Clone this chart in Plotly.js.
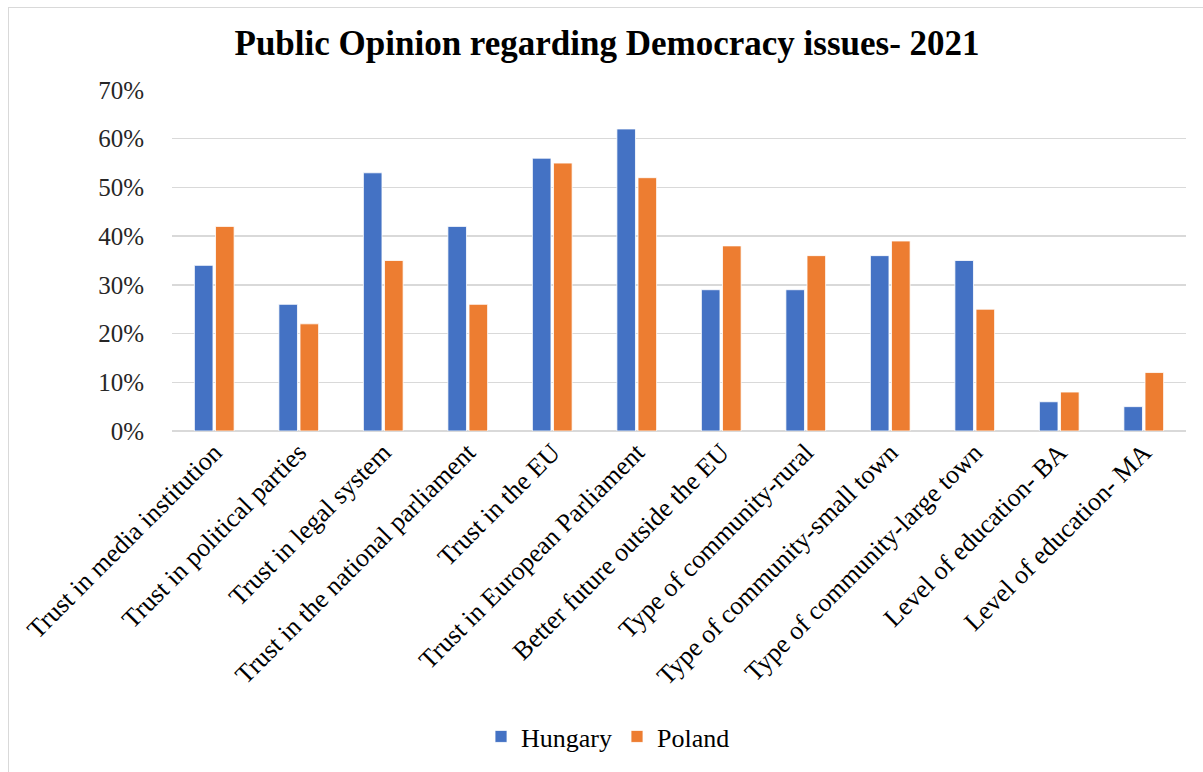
<!DOCTYPE html>
<html>
<head>
<meta charset="utf-8">
<script src="https://cdn.plot.ly/plotly-3.0.1.min.js"></script>
<style>
html,body{margin:0;padding:0;background:#fff;}
#wrap{position:absolute;left:0;top:0;width:1203px;height:772px;}
#frame{position:absolute;left:8px;top:7px;width:1195px;height:765px;border-left:1.5px solid #d9d9d9;border-top:1.5px solid #d9d9d9;pointer-events:none;}
#chart{position:absolute;left:0;top:0;width:1203px;height:772px;}
</style>
</head>
<body>
<div id="wrap">
<div id="chart"></div>
<div id="frame"></div>
</div>
<script>
const categories = [
  "Trust in media institution",
  "Trust in political parties",
  "Trust in legal system",
  "Trust in the national parliament",
  "Trust in the EU",
  "Trust in European Parliament",
  "Better future outside the EU",
  "Type of community-rural",
  "Type of community-small town",
  "Type of community-large town",
  "Level of education- BA",
  "Level of education- MA"
];
const hungary = [0.34, 0.26, 0.53, 0.42, 0.56, 0.62, 0.29, 0.29, 0.36, 0.35, 0.06, 0.05];
const poland  = [0.42, 0.22, 0.35, 0.26, 0.55, 0.52, 0.38, 0.36, 0.39, 0.25, 0.08, 0.12];
const yTicks = [0, 0.1, 0.2, 0.3, 0.4, 0.5, 0.6, 0.7];

const serif = "Liberation Serif";

const traces = [
  {type:"bar", name:"Hungary", x:categories, y:hungary,
   marker:{color:"#4472C4", line:{color:"#ffffff", width:0.8}}},
  {type:"bar", name:"Poland", x:categories, y:poland,
   marker:{color:"#ED7D31", line:{color:"#ffffff", width:0.8}}}
];

const layout = {
  width:1203, height:772,
  margin:{l:172, r:17, t:90, b:338},
  paper_bgcolor:"rgba(0,0,0,0)", plot_bgcolor:"#ffffff",
  barmode:"group", bargap:0.5, bargroupgap:0.12,
  title:{text:"<b>Public Opinion regarding Democracy issues- 2021</b>",
         font:{family:serif, size:35, color:"#000000"},
         xref:"container", x:0.5046, xanchor:"center",
         yref:"container", y:0.944, yanchor:"middle"},
  xaxis:{type:"category", tickangle:-45, showgrid:false, zeroline:false,
         showline:false, ticks:"", tickfont:{family:serif, size:26, color:"#000000"}},
  yaxis:{range:[0,0.7], tickvals:yTicks, tickformat:".0%",
         showgrid:true, gridcolor:"#d9d9d9", gridwidth:1.5,
         zeroline:true, zerolinecolor:"#d9d9d9", zerolinewidth:1.5,
         showline:false, ticks:"", ticklabelstandoff:27,
         tickfont:{family:serif, size:25, color:"#262626"}},
  showlegend:true,
  legend:{orientation:"h", x:0.43, xanchor:"center", xref:"paper",
          y:-0.896, yanchor:"middle", font:{family:serif, size:26, color:"#000000"},
          itemwidth:30, traceorder:"normal"},
  font:{family:serif}
};

Plotly.newPlot("chart", traces, layout, {displayModeBar:false, staticPlot:true});
</script>
</body>
</html>
